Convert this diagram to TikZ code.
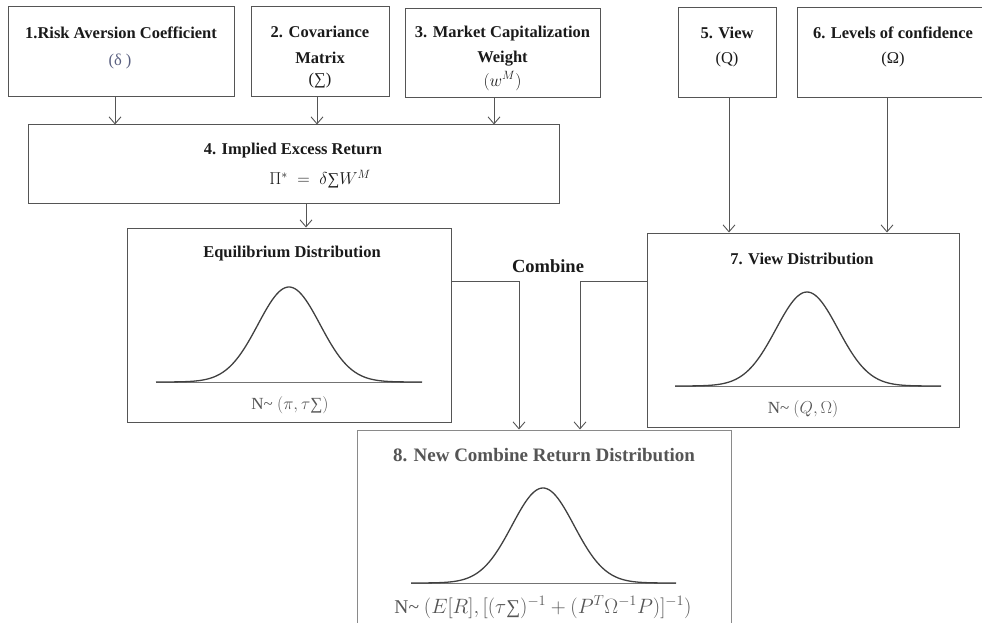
\documentclass[tikz,border=0pt]{standalone}
\usepackage{fontspec}
\setmainfont{Liberation Serif}
\usetikzlibrary{arrows.meta}
\definecolor{bord}{HTML}{555555}
\definecolor{lbord}{HTML}{8A8A8A}
\definecolor{txt}{HTML}{1A1A1A}
\definecolor{gtxt}{HTML}{555555}
\definecolor{bluish}{HTML}{5A6080}
\newcommand{\sigmasum}{\mbox{∑}}
\begin{document}
\begin{tikzpicture}[x=1pt,y=-1pt,
 box/.style={draw=bord, line width=1pt, inner sep=0pt},
 ttl/.style={font=\bfseries\fontsize{16.5}{19}\selectfont, text=txt, inner sep=0pt},
 sub/.style={font=\fontsize{16.5}{19}\selectfont, text=txt, inner sep=0pt},
 lbl/.style={font=\fontsize{17}{20}\selectfont, text=gtxt, inner sep=0pt},
 ln/.style={draw=bord, line width=0.9pt},
 arr/.style={ln, -{Straight Barb[length=7pt,width=12pt]}},
 curve/.style={draw=black!75, line width=1.3pt},
 base/.style={draw=black!55, line width=1pt}]
\useasboundingbox (0,0) rectangle (982,623);
\clip (0,0) rectangle (982,623);

% top boxes
\node[box, minimum width=226pt, minimum height=90pt] (b1) at (121,52) {};
\node[ttl] (t1) at (121,33) {1.Risk Aversion Coefficient};
\node[sub, text=bluish] (s1) at (120,61) {(δ )};

\node[box, minimum width=138pt, minimum height=90pt] (b2) at (320,52) {};
\node[ttl] (t2) at (320,32) {2. Covariance};
\node[ttl] (t2b) at (320,58) {Matrix};
\node[sub] (s2) at (320,81) {(∑)};

\node[box, minimum width=195pt, minimum height=89pt] (b3) at (502.5,53) {};
\node[ttl] (t3) at (502.5,34) {3. Market Capitalization};
\node[ttl] (t3b) at (502.5,59) {Weight};
\node[sub] (s3) at (502.5,81) {$(w^M)$};

\node[box, minimum width=98pt, minimum height=90pt] (b5) at (727,53) {};
\node[ttl] (t5) at (727,33) {5. View};
\node[sub] (s5) at (727,60) {(Q)};

\node[box, minimum width=192pt, minimum height=90pt] (b6) at (893,53) {};
\node[ttl] (t6) at (893,33) {6. Levels of confidence};
\node[sub] (s6) at (893,60) {(Ω)};

% box 4
\node[box, minimum width=531pt, minimum height=78pt] (b4) at (293.5,164) {};
\node[ttl] (t4) at (293,151) {4. Implied Excess Return};
\node[sub] (f4) at (320,179) {$\Pi^{*}\;=\;\delta\sigmasum W^{M}$};

% equilibrium box
\node[box, minimum width=324pt, minimum height=194pt] (eq) at (289,325) {};
\node[ttl] (teq) at (292,254) {Equilibrium Distribution};
\draw[base] (156,382) -- (422,382);
\draw[curve] plot[domain=156:422,samples=120,smooth] (\x,{382-95*exp(-0.5*((\x-289)/31)^2)});
\node[lbl] (leq) at (290,405) {N\textasciitilde{} $(\pi,\tau\sigmasum)$};

% view box
\node[box, minimum width=312pt, minimum height=194pt] (vw) at (803,330) {};
\node[ttl] (tvw) at (802,259) {7. View Distribution};
\draw[base] (675,386) -- (941,386);
\draw[curve] plot[domain=675:941,samples=120,smooth] (\x,{386-94*exp(-0.5*((\x-807)/31)^2)});
\node[lbl] (lvw) at (803,409) {N\textasciitilde{} $(Q,\Omega)$};

% box 8
\node[draw=lbord, line width=1pt, inner sep=0pt, minimum width=374pt, minimum height=220pt] (b8) at (544,540) {};
\node[ttl, text=gtxt, font=\bfseries\fontsize{19}{22}\selectfont] (t8) at (544,455) {8. New Combine Return Distribution};
\draw[base] (411,583) -- (676,583);
\draw[curve] plot[domain=411:676,samples=120,smooth] (\x,{583-95*exp(-0.5*((\x-543)/31)^2)});
\node[lbl, font=\fontsize{19.5}{22}\selectfont] (l8) at (543,607) {N\textasciitilde{} $(E[R],[(\tau\sigmasum)^{-1}+(P^{T}\Omega^{-1}P)]^{-1})$};

\node[ttl, font=\bfseries\fontsize{18.5}{21}\selectfont] (comb) at (548,266) {Combine};

% arrows
\draw[arr] (b1.south -| 115,0) -- (b4.north -| 115,0);
\draw[arr] (b2.south -| 317,0) -- (b4.north -| 317,0);
\draw[arr] (b3.south -| 494,0) -- (b4.north -| 494,0);
\draw[arr] (b4.south -| 306,0) -- (eq.north -| 306,0);
\draw[arr] (b5.south -| 729,0) -- (vw.north -| 729,0);
\draw[arr] (b6.south -| 887,0) -- (vw.north -| 887,0);

\coordinate (cl) at (519,281);
\coordinate (cr) at (580,281);
\draw[arr] (cl -| eq.east) -- (cl) -- (cl |- b8.north);
\draw[arr] (cr -| vw.west) -- (cr) -- (cr |- b8.north);
\end{tikzpicture}
\end{document}
